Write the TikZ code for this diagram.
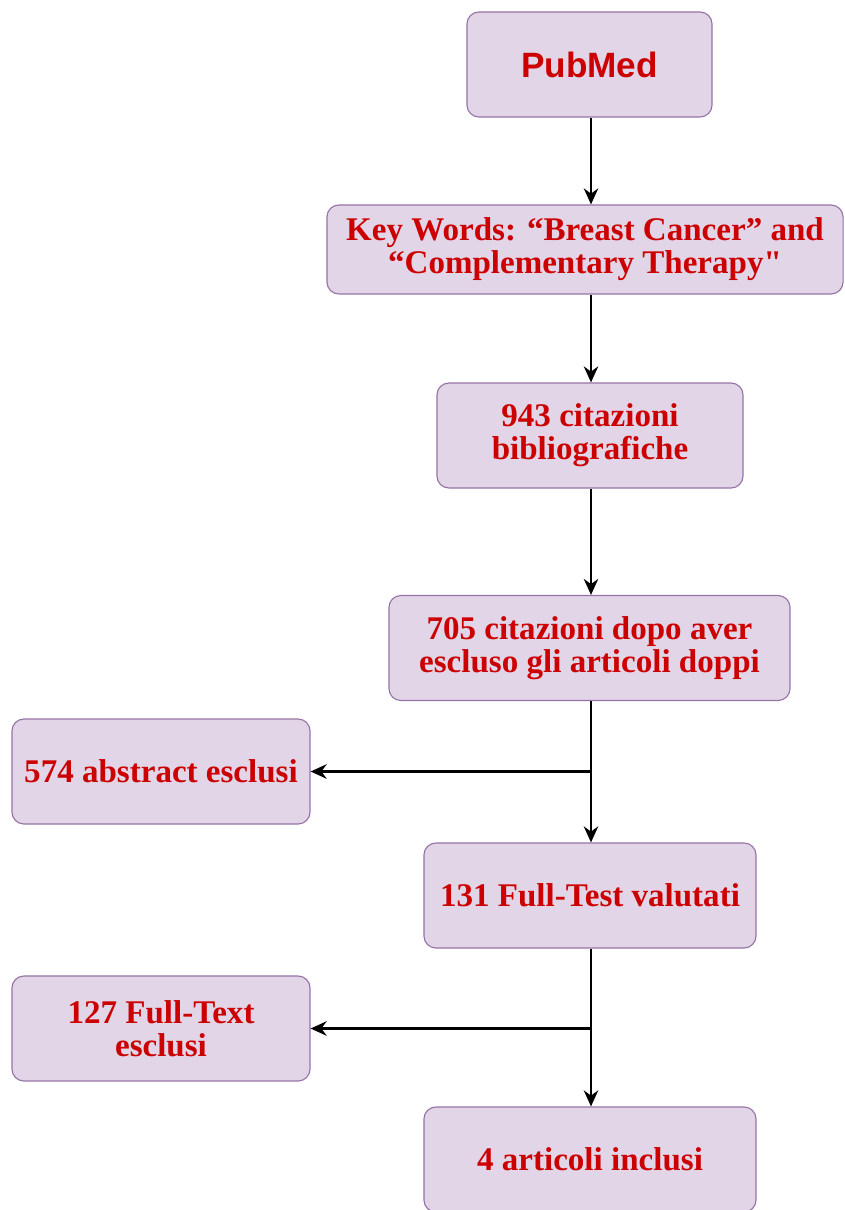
\documentclass[tikz,border=0pt]{standalone}
\usepackage{fontspec}
\setmainfont[Ligatures=TeXOff]{Liberation Serif}
\newfontfamily\headfont{Liberation Sans}
\usetikzlibrary{arrows.meta}
\definecolor{boxfill}{HTML}{E1D5E7}
\definecolor{boxline}{HTML}{9673A6}
\definecolor{txtred}{HTML}{CC0000}
\tikzset{
  stepbox/.style={draw=boxline, fill=boxfill, line width=0.8pt, rounded corners=0.3cm,
    inner sep=0pt, minimum height=2.625cm, align=center, text=txtred,
    font=\fontsize{23.5}{23.5}\selectfont\bfseries},
  flow/.style={-{Stealth[length=0.4cm,width=0.36cm]}, line width=1.8pt, black}
}
\begin{document}
\begin{tikzpicture}[x=0.025cm,y=-0.025cm]
\useasboundingbox (0,0) rectangle (845,1210);
% main column
\node[stepbox, minimum width=6.125cm, font=\headfont\fontsize{25}{23}\selectfont\bfseries] (pubmed) at (589.5,64.5) {PubMed};
\node[stepbox, minimum width=12.9cm, minimum height=2.225cm] (keywords) at (585,249.5)
  {Key Words: “Breast Cancer” and\\“Complementary Therapy"};
\node[stepbox, minimum width=7.65cm] (cit943) at (590,435.5) {943 citazioni\\bibliografiche};
\node[stepbox, minimum width=10.025cm] (cit705) at (589.5,648) {705 citazioni dopo aver\\escluso gli articoli doppi};
\node[stepbox, minimum width=8.3cm] (full131) at (590,895.5) {131 Full-Test valutati};
\node[stepbox, minimum width=8.3cm] (incl4) at (590,1159.5) {4 articoli inclusi};
% excluded
\node[stepbox, minimum width=7.45cm] (excl574) at (161,771.5) {574 abstract esclusi};
\node[stepbox, minimum width=7.45cm] (excl127) at (161,1028.5) {127 Full-Text\\esclusi};
% arrows
\draw[flow] (pubmed.south -| 591,0) -- (keywords.north -| 591,0);
\draw[flow] (keywords.south -| 591,0) -- (cit943.north -| 591,0);
\draw[flow] (cit943.south -| 591,0) -- (cit705.north -| 591,0);
\draw[flow] (cit705.south -| 591,0) -- (full131.north -| 591,0);
\draw[flow] (full131.south -| 591,0) -- (incl4.north -| 591,0);
\draw[flow] (excl574.east -| 591,0) -- (excl574.east);
\draw[flow] (excl127.east -| 591,0) -- (excl127.east);
\end{tikzpicture}
\end{document}
